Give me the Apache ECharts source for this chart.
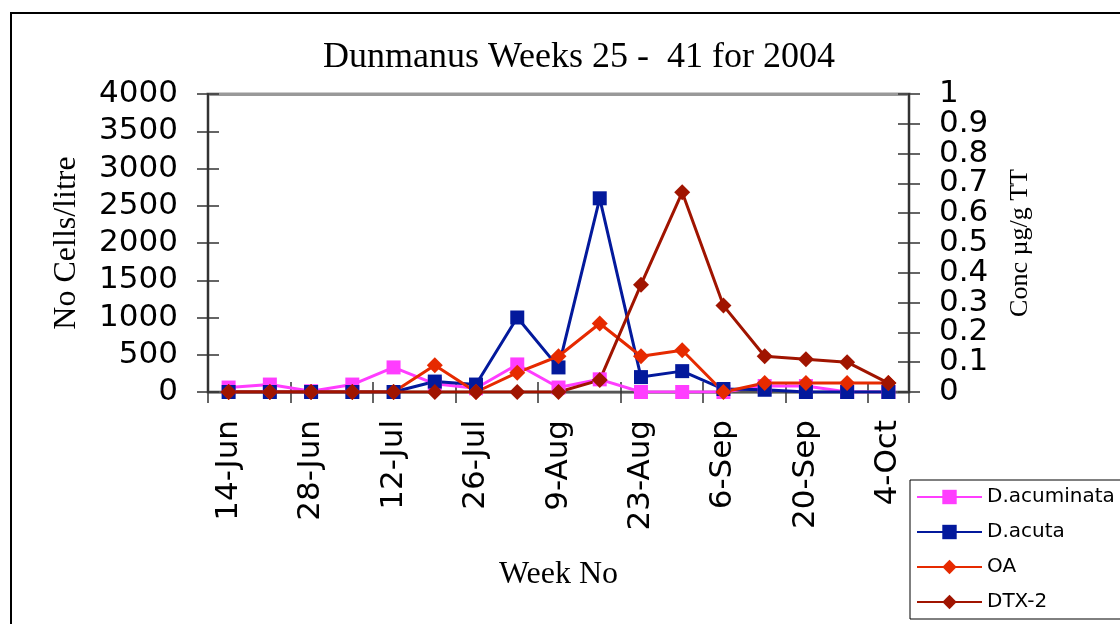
<!DOCTYPE html>
<html>
<head>
<meta charset="utf-8">
<title>Dunmanus Weeks 25 - 41 for 2004</title>
<script src="https://cdn.jsdelivr.net/npm/echarts@6/dist/echarts.min.js"></script>
<style>
  html, body { margin: 0; padding: 0; background: #fff; }
  #chart { width: 1120px; height: 624px; }
</style>
</head>
<body>
<div id="chart"></div>
<script>
// week start dates, 2004
const weeks = ['14-Jun', '21-Jun', '28-Jun', '5-Jul', '12-Jul', '19-Jul', '26-Jul', '2-Aug', '9-Aug',
  '16-Aug', '23-Aug', '30-Aug', '6-Sep', '13-Sep', '20-Sep', '27-Sep', '4-Oct']

// cells per litre (left axis)
const dAcuminata = [60, 100, 10, 100, 330, 110, 50, 370, 60, 170, 0, 0, 0, 80, 80, 0, 0]
const dAcuta = [0, 0, 0, 0, 0, 140, 100, 1000, 330, 2600, 200, 280, 40, 30, 0, 0, 0]

// toxin conc, ug/g TT (right axis)
const oa = [0, 0, 0, 0, 0, 0.09, 0, 0.065, 0.12, 0.23, 0.12, 0.14, 0, 0.03, 0.03, 0.03, 0.03]
const dtx2 = [0, 0, 0, 0, 0, 0, 0, 0, 0, 0.04, 0.36, 0.67, 0.29, 0.12, 0.11, 0.1, 0.03]

const sans = 'DejaVu Sans'
const serif = 'Liberation Serif'
const tickStyle = { color: '#333', width: 1.5 }
const labelFont = { fontFamily: sans, fontSize: 31, color: '#000' }

const chart = echarts.init(document.getElementById('chart'))

function lineSeries(name, data, color, symbol, size, yIndex) {
  return {
    name: name,
    type: 'line',
    xAxisIndex: 0,
    yAxisIndex: yIndex,
    data: data,
    symbol: symbol,
    symbolSize: size,
    showAllSymbol: true,
    lineStyle: { color: color, width: 3 },
    itemStyle: { color: color },
    emphasis: { disabled: true }
  }
}

// right axis labels are packed tight; the end labels go on a second axis
// so echarts doesn't drop 0.9 / 0.1 as overlapping
function concLabel(v) {
  const r = Math.round(v * 10) / 10
  return (r === 0 || r === 1) ? '' : String(r)
}
function concEndLabel(v) {
  const r = Math.round(v * 10) / 10
  return (r === 0 || r === 1) ? String(r) : ''
}

chart.setOption({
  animation: false,
  backgroundColor: '#fff',
  title: {
    text: 'Dunmanus Weeks 25 -  41 for 2004',
    left: 574,
    top: 35,
    textAlign: 'center',
    textStyle: { fontFamily: serif, fontSize: 36, fontWeight: 'normal', color: '#000' }
  },
  graphic: [{
    type: 'rect',
    silent: true,
    shape: { x: 11, y: 13, width: 1200, height: 700 },
    style: { fill: 'none', stroke: '#000', lineWidth: 2 }
  }],
  legend: {
    orient: 'vertical',
    left: 910,
    top: 480,
    padding: [6, 8, 6, 6],
    itemWidth: 65,
    itemHeight: 18,
    itemGap: 13,
    borderColor: '#000',
    borderWidth: 1,
    lineStyle: { width: 2 },
    textStyle: { fontFamily: sans, fontSize: 20, lineHeight: 22, color: '#000' },
    data: ['D.acuminata', 'D.acuta', 'OA', 'DTX-2']
  },
  grid: {
    left: 208,
    right: 211,
    top: 94,
    bottom: 232,
    show: true,
    backgroundColor: 'rgba(0,0,0,0)',
    borderColor: '#999',
    borderWidth: 3,
    containLabel: false,
    outerBoundsMode: 'none'
  },
  xAxis: [{
    type: 'category',
    position: 'bottom',
    data: weeks,
    boundaryGap: true,
    axisLine: { lineStyle: { color: '#555', width: 2 } },
    axisTick: { show: true, interval: 1, length: 11, lineStyle: tickStyle },
    axisLabel: { interval: 1, rotate: 90, margin: 28, fontFamily: sans, fontSize: 31, color: '#000' },
    name: 'Week No',
    nameLocation: 'middle',
    nameGap: 167,
    nameTextStyle: { fontFamily: serif, fontSize: 32, color: '#000' }
  }, {
    type: 'category',
    position: 'bottom',
    data: weeks,
    axisLine: { show: false },
    axisTick: { show: true, inside: true, interval: 1, length: 10, lineStyle: tickStyle },
    axisLabel: { show: false }
  }],
  yAxis: [{
    type: 'value',
    position: 'left',
    min: 0,
    max: 4000,
    interval: 500,
    axisLine: { show: true, lineStyle: { color: '#333', width: 2 } },
    axisTick: { show: true, length: 11, lineStyle: tickStyle },
    splitLine: { show: false },
    axisLabel: Object.assign({
      margin: 30, showMinLabel: true, showMaxLabel: true,
      formatter: function (v) { return String(v) }
    }, labelFont),
    name: 'No Cells/litre',
    nameLocation: 'middle',
    nameGap: 125,
    nameTextStyle: { fontFamily: serif, fontSize: 32, color: '#000' }
  }, {
    type: 'value',
    position: 'right',
    min: 0,
    max: 1,
    interval: 0.1,
    axisLine: { show: true, lineStyle: { color: '#333', width: 2 } },
    axisTick: { show: true, length: 11, lineStyle: tickStyle },
    splitLine: { show: false },
    axisLabel: Object.assign({ margin: 30, formatter: concLabel }, labelFont),
    name: 'Conc µg/g TT',
    nameLocation: 'middle',
    nameGap: 98,
    nameTextStyle: { fontFamily: serif, fontSize: 26, color: '#000' }
  }, {
    type: 'value',
    position: 'left',
    min: 0,
    max: 4000,
    interval: 500,
    axisLine: { show: false },
    axisTick: { show: true, inside: true, length: 11, lineStyle: tickStyle },
    splitLine: { show: false },
    axisLabel: { show: false }
  }, {
    type: 'value',
    position: 'right',
    min: 0,
    max: 1,
    interval: 0.1,
    axisLine: { show: false },
    axisTick: { show: true, inside: true, length: 11, lineStyle: tickStyle },
    splitLine: { show: false },
    axisLabel: Object.assign({ margin: 30, showMinLabel: true, showMaxLabel: true, formatter: concEndLabel }, labelFont)
  }, {
    // top frame line of the plot area
    type: 'value',
    position: 'left',
    min: 0,
    max: 4000,
    interval: 4000,
    axisLine: { show: false },
    axisTick: { show: false },
    axisLabel: { show: false },
    splitLine: { show: true, showMaxLine: true, lineStyle: { color: '#999', width: 3 } }
  }],
  series: [
    lineSeries('D.acuminata', dAcuminata, '#ff3dff', 'rect', 14, 0),
    lineSeries('D.acuta', dAcuta, '#03199c', 'rect', 14, 0),
    lineSeries('OA', oa, '#e62a00', 'diamond', 16, 1),
    lineSeries('DTX-2', dtx2, '#a01400', 'diamond', 16, 1)
  ]
})
</script>
</body>
</html>
